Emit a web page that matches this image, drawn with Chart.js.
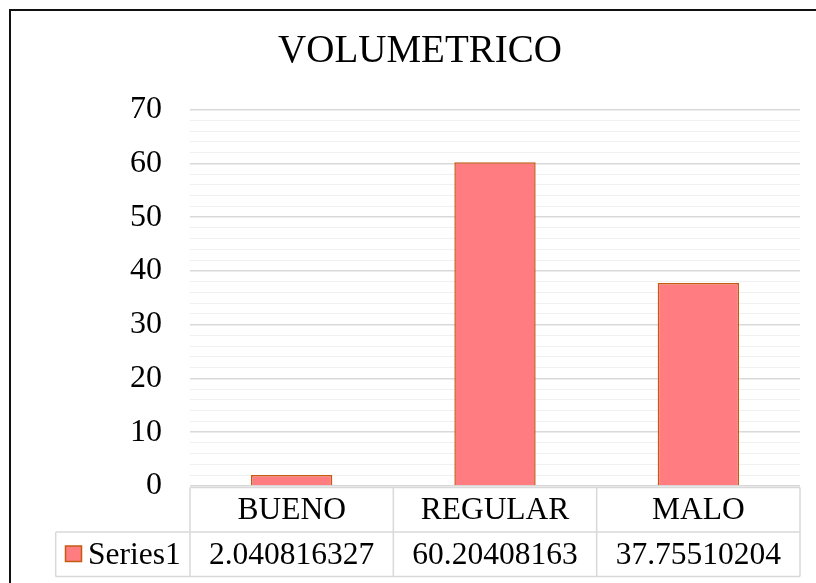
<!DOCTYPE html>
<html>
<head>
<meta charset="utf-8">
<script src="https://cdn.jsdelivr.net/npm/chart.js@4/dist/chart.umd.min.js"></script>
<style>
    html, body { margin: 0; padding: 0; background: #fff; overflow: hidden; }
    #wrap { position: relative; width: 816px; height: 583px; overflow: hidden; }
    #frame {
        position: absolute; left: 9px; top: 9px;
        width: 1000px; height: 1000px;
        border: 2px solid #111; pointer-events: none;
    }
    canvas { position: absolute; left: 40px; top: 10px; }
</style>
</head>
<body>
<div id="wrap">
    <canvas id="chart" width="776" height="573"></canvas>
    <div id="frame"></div>
</div>
<script>
const categories = ["BUENO", "REGULAR", "MALO"];
const seriesName = "Series1";
const values = [2.040816327, 60.20408163, 37.75510204];

const barColor = "#ff7c80";
const barBorder = "#c55a11";
const serif = "'Liberation Serif', 'Times New Roman', serif";

// tabla de datos debajo del eje, como en Excel
const dataTable = {
    id: "dataTable",
    afterDraw(chart) {
        let ctx = chart.ctx;
        let area = chart.chartArea;
        let colW = (area.right - area.left) / categories.length;
        let top = area.bottom + 1.5;
        let mid = top + 44.6;
        let bot = mid + 44.4;
        let legendLeft = 15.7;

        ctx.save();
        ctx.strokeStyle = "#d9d9d9";
        ctx.lineWidth = 1.5;
        ctx.beginPath();
        ctx.moveTo(area.left, top); ctx.lineTo(area.right, top);
        ctx.moveTo(legendLeft, mid); ctx.lineTo(area.right, mid);
        ctx.moveTo(legendLeft, bot); ctx.lineTo(area.right, bot);
        ctx.moveTo(legendLeft, mid); ctx.lineTo(legendLeft, bot);
        for (let i = 0; i <= categories.length; i++) {
            let x = area.left + colW * i;
            ctx.moveTo(x, top); ctx.lineTo(x, bot);
        }
        ctx.stroke();

        ctx.fillStyle = "#000";
        ctx.font = "31.5px " + serif;
        ctx.textAlign = "center";
        ctx.textBaseline = "middle";
        categories.forEach((cat, i) => {
            let cx = chart.scales.x.getPixelForValue(i);
            ctx.fillText(cat, cx, (top + mid) / 2 + 1);
            ctx.fillText(String(values[i]), cx, (mid + bot) / 2 + 1);
        });

        // clave de la serie
        ctx.fillStyle = barColor;
        ctx.strokeStyle = barBorder;
        ctx.lineWidth = 1.5;
        ctx.fillRect(25.5, 536, 16, 15.5);
        ctx.strokeRect(25.5, 536, 16, 15.5);
        ctx.fillStyle = "#000";
        ctx.textAlign = "left";
        ctx.fillText(seriesName, 48, (mid + bot) / 2 + 1);
        ctx.restore();
    }
};

new Chart(document.getElementById("chart"), {
    type: "bar",
    data: {
        labels: categories,
        datasets: [{
            label: seriesName,
            data: values,
            backgroundColor: barColor,
            borderColor: barBorder,
            borderWidth: 1.5,
            categoryPercentage: 1,
            barPercentage: 0.4
        }]
    },
    options: {
        responsive: false,
        animation: false,
        layout: { padding: { left: 0, right: 16, top: 0, bottom: 97 } },
        plugins: {
            legend: { display: false },
            tooltip: { enabled: false },
            title: {
                display: true,
                text: "VOLUMETRICO",
                color: "#000",
                font: { family: serif, size: 39, weight: "normal" },
                padding: { top: 18.6, bottom: 34.2 }
            }
        },
        scales: {
            x: {
                display: false
            },
            y: {
                min: 0,
                max: 70,
                border: { display: false },
                afterFit: (scale) => { scale.width = 150; },
                grid: {
                    drawTicks: false,
                    color: (c) => (c.tick && c.tick.value % 10 === 0) ? "#d9d9d9" : "#f0f0f0",
                    lineWidth: (c) => (c.tick && c.tick.value % 10 === 0) ? 1.5 : 1
                },
                ticks: {
                    stepSize: 2,
                    autoSkip: false,
                    padding: 28,
                    color: "#000",
                    font: { family: serif, size: 32 },
                    callback: (v) => (v % 10 === 0) ? v : ""
                }
            }
        }
    },
    plugins: [dataTable]
});
</script>
</body>
</html>
